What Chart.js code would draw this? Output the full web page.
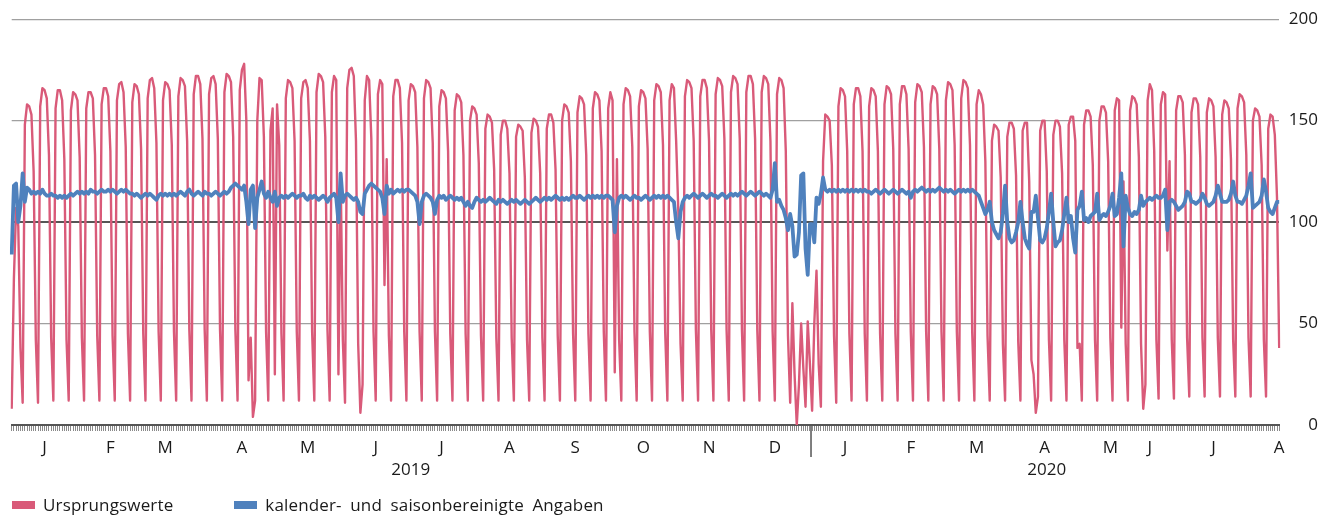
<!DOCTYPE html>
<html><head><meta charset="utf-8">
<script src="https://cdn.jsdelivr.net/npm/chart.js@4.4.1/dist/chart.umd.min.js"></script>
<style>
html,body{margin:0;padding:0;background:#fff;}
#wrap{position:relative;width:1331px;height:516px;}
#legend{position:absolute;left:12px;top:493px;font-family:'Open Sans';font-size:17px;letter-spacing:0.15px;word-spacing:4px;color:#1a1a1a;display:flex;white-space:nowrap;}
.item{display:flex;align-items:center;}
.box{width:23px;height:8px;margin-right:8px;}
</style></head><body>
<div id="wrap"><canvas id="c" width="1331" height="516"></canvas><div id="legend"></div></div>
<script>
const startDate = [2019, 0, 1];
const seriesNames = ['Ursprungswerte', 'kalender- und saisonbereinigte Angaben'];
const seriesColors = ['#d95a79', '#4f81bd'];

const pink2019 = [
8,72,107,98,38,11,
148,158,157,153,125,42,11,
157,166,165,161,133,43,12,
156,165,165,160,131,42,12,
155,164,163,160,132,43,12,
156,164,164,161,133,44,12,
158,166,166,162,135,44,12,
160,168,169,164,137,45,12,
159,168,167,163,136,45,12,
161,170,171,166,139,46,12,
160,169,168,165,138,46,12,
162,171,170,167,140,47,12,
163,172,172,168,141,47,12,
163,171,172,168,141,47,12,
164,173,172,169,142,47,12,
165,175,178,150,22,43,4,
12,150,171,170,142,46,12,
145,156,25,158,138,45,12,
161,170,169,166,140,46,12,
161,169,170,166,140,46,12,
164,173,172,169,142,47,12,
164,172,170,25,124,42,11,
166,175,176,172,140,40,6,
20,160,172,170,141,46,12,
163,170,168,69,131,44,12,
162,170,170,166,139,46,12,
160,168,167,164,137,46,12,
161,170,169,166,139,46,12,
157,165,164,161,135,45,12,
155,163,162,159,133,45,12,
150,157,156,153,129,44,12,
146,153,152,149,126,43,12,
143,150,150,146,124,43,12,
142,148,147,145,122,42,12,
144,151,150,147,124,43,12,
146,153,153,149,126,44,12,
150,158,157,154,130,45,12,
154,162,161,158,133,45,12,
156,164,163,160,135,46,12,
156,164,160,26,131,42,12,
158,166,165,162,137,46,12,
157,165,164,161,136,46,12,
160,168,167,164,138,46,12,
160,168,166,140,105,40,12,
162,170,169,166,140,47,12,
162,170,170,166,140,47,12,
163,171,170,167,141,47,12,
164,172,171,168,141,47,12,
164,172,172,168,141,47,12,
164,172,171,168,140,46,12,
163,171,170,166,135,44,11,
60,25,0,20,50,28,9,
51,30
];
const pink2020 = [
7,50,76,30,9,
130,153,152,150,128,44,11,
157,166,165,162,135,45,12,
158,166,166,162,135,45,12,
157,166,165,162,135,45,12,
158,167,166,163,136,45,12,
158,167,167,163,136,46,12,
159,168,167,164,137,46,12,
158,167,166,163,136,46,12,
160,169,168,165,138,46,12,
161,170,169,166,138,46,12,
158,165,163,158,130,44,12,
140,148,147,145,122,40,12,
142,149,149,146,123,41,12,
145,149,149,120,32,25,6,
14,145,150,150,125,42,12,
143,150,150,147,124,42,12,
148,152,152,140,38,40,12,
148,155,155,152,128,42,12,
150,157,157,154,130,43,12,
155,161,160,48,120,40,12,
155,162,161,158,132,40,8,
20,160,168,165,135,42,13,
158,164,163,86,130,42,13,
155,162,162,159,133,43,14,
154,161,161,158,132,43,14,
154,161,160,157,132,43,14,
153,160,159,156,131,42,14,
156,163,162,159,133,43,14,
150,156,155,152,128,42,14,
146,153,152,143,112,38
];
const blue2019 = [
84,118,119,100,108,124,
110,117,116,114,115,114,115,
114,116,114,113,113,114,113,
113,112,113,112,113,112,113,
114,113,114,115,114,115,114,
115,114,116,115,115,114,115,
116,115,115,116,115,116,115,
114,115,116,115,116,115,114,
114,113,114,113,112,113,114,
113,114,113,112,111,113,114,
113,114,113,114,113,114,113,
114,115,114,113,115,116,114,
113,114,115,114,113,115,114,
114,113,114,115,114,113,114,
115,114,115,117,118,119,118,
117,116,118,110,99,116,118,
97,112,116,120,114,112,115,
112,110,115,108,112,113,112,
113,112,113,114,113,112,113,
113,114,112,111,113,112,113,
112,111,112,113,112,110,112,
113,114,112,100,124,110,113,
114,113,112,111,112,110,105,
104,114,116,118,119,118,117,
116,115,112,104,118,114,116,
114,115,116,115,116,115,116,
116,115,114,113,110,99,110,
113,114,113,112,110,104,111,
113,112,113,111,112,113,112,
111,112,111,112,110,108,110,
108,107,110,112,111,110,111,
110,111,112,111,110,109,111,
110,111,110,109,110,111,110,
111,110,109,110,111,110,109,
110,111,112,111,110,111,112,
111,112,111,112,113,112,111,
112,111,112,111,112,113,112,
112,113,112,111,112,113,112,
113,112,113,112,113,112,113,
113,112,111,95,108,112,113,
112,113,112,111,112,113,112,
112,111,112,113,112,111,112,
113,112,113,112,113,112,113,
112,111,110,100,92,105,110,
112,113,112,113,114,113,112,
113,114,113,112,113,114,113,
113,112,113,114,113,112,113,
114,113,114,113,114,115,114,
113,114,115,114,113,114,115,
114,113,114,113,112,116,129,
110,111,108,106,102,96,104,
98,83,84,95,123,124,87,
74,99
];
const blue2020 = [
99,90,112,109,114,
122,116,115,116,115,116,115,
116,115,116,115,116,115,116,
115,116,115,116,115,116,115,
115,114,115,116,115,114,115,
116,115,114,115,116,115,114,
115,116,115,114,115,112,115,
116,115,116,117,116,115,116,
115,116,115,116,117,116,115,
116,115,116,115,114,115,116,
115,116,115,116,115,116,115,
114,113,110,107,104,106,110,
100,96,94,92,95,104,118,
100,92,90,91,95,100,110,
100,92,89,87,105,105,113,
102,91,90,92,97,105,114,
100,88,90,91,96,104,112,
100,103,92,85,106,108,115,
101,102,100,103,104,105,114,
101,103,104,103,105,108,114,
103,104,112,124,88,113,107,
104,103,105,104,106,113,108,
110,111,112,111,112,113,112,
112,113,116,96,110,111,110,
108,106,107,108,110,115,114,
110,110,109,110,111,114,112,
109,108,109,110,113,118,114,
110,110,110,111,114,120,113,
110,110,109,111,113,118,124,
107,108,109,110,113,121,115,
107,105,104,107,110,110
];

const monthTickDates = ['2019-01-16','2019-02-15','2019-03-12','2019-04-16','2019-05-16','2019-06-16','2019-07-16','2019-08-16','2019-09-15','2019-10-16','2019-11-15','2019-12-15','2020-01-16','2020-02-15','2020-03-16','2020-04-16','2020-05-16','2020-06-03','2020-07-02','2020-08-01'];
const monthTickLabels = ['J','F','M','A','M','J','J','A','S','O','N','D','J','F','M','A','M','J','J','A'];
const yearTickDates = ['2019-07-02','2020-04-17'];
const yearTickLabels = ['2019','2020'];
const yearBoundaryDates = ['2019-12-31','2020-01-01'];
const yTickValues = [0, 50, 100, 150, 200];

const pinkValues = pink2019.concat(pink2020);
const blueValues = blue2019.concat(blue2020);
const dates = pinkValues.map((_, i) => new Date(Date.UTC(startDate[0], startDate[1], startDate[2] + i)).toISOString().slice(0, 10));

const FONT = "'Open Sans', 'DejaVu Sans', sans-serif";
const TXT = '#1a1a1a';

const separatorPlugin = {
  id: 'yearSeparator',
  afterDraw(chart) {
    const xs = chart.scales.x;
    const i0 = dates.indexOf(yearBoundaryDates[0]);
    const i1 = dates.indexOf(yearBoundaryDates[1]);
    const px = (xs.getPixelForValue(i0) + xs.getPixelForValue(i1)) / 2;
    const ctx = chart.ctx;
    ctx.save();
    ctx.strokeStyle = '#555';
    ctx.lineWidth = 1.5;
    ctx.beginPath();
    ctx.moveTo(px, chart.chartArea.bottom);
    ctx.lineTo(px, chart.chartArea.bottom + 32);
    ctx.stroke();
    ctx.restore();
  }
};

new Chart(document.getElementById('c'), {
  type: 'line',
  data: {
    labels: dates,
    datasets: [
      { label: seriesNames[0], data: pinkValues, borderColor: seriesColors[0], backgroundColor: seriesColors[0], borderWidth: 2.4, pointRadius: 0, tension: 0, borderJoinStyle: 'round', order: 2, xAxisID: 'x', yAxisID: 'y' },
      { label: seriesNames[1], data: blueValues, borderColor: seriesColors[1], backgroundColor: seriesColors[1], borderWidth: 3.8, pointRadius: 0, tension: 0, borderJoinStyle: 'round', order: 1, xAxisID: 'x', yAxisID: 'y' }
    ]
  },
  options: {
    responsive: false,
    animation: false,
    devicePixelRatio: 1,
    layout: { padding: { left: 11.7, right: 13, top: 17, bottom: 33 } },
    plugins: { legend: { display: false }, tooltip: { enabled: false } },
    scales: {
      x: {
        type: 'category', position: 'bottom', offset: false, weight: 1,
        grid: { display: true, drawOnChartArea: false, drawTicks: true, tickLength: 6, tickColor: '#8a8a8a', lineWidth: 1 },
        border: { display: true, color: '#555', width: 2 },
        ticks: {
          autoSkip: false, maxRotation: 0, minRotation: 0, padding: 7,
          color: TXT, font: { family: FONT, size: 17 },
          callback: (v, i) => { const k = monthTickDates.indexOf(dates[i]); return k >= 0 ? monthTickLabels[k] : ''; }
        },
        afterFit: (s) => { s.height = 34; }
      },
      x2: {
        type: 'category', position: 'bottom', offset: false, weight: 2,
        grid: { display: false, drawTicks: false }, border: { display: false },
        ticks: {
          autoSkip: false, maxRotation: 0, minRotation: 0, padding: 1,
          color: TXT, font: { family: FONT, size: 17 },
          callback: (v, i) => { const k = yearTickDates.indexOf(dates[i]); return k >= 0 ? yearTickLabels[k] : ''; }
        },
        afterFit: (s) => { s.height = 24; }
      },
      y: {
        position: 'right', min: 0, max: 200,
        afterBuildTicks: (s) => { s.ticks = yTickValues.map(v => ({ value: v })); },
        grid: {
          drawTicks: false,
          color: (c) => c.tick.value === 100 ? '#555' : (c.tick.value === 0 ? 'rgba(0,0,0,0)' : '#a0a0a0'),
          lineWidth: (c) => c.tick.value === 100 ? 2 : 1.2
        },
        border: { display: false },
        ticks: { padding: 9, crossAlign: 'far', color: TXT, font: { family: FONT, size: 17 } },
        afterFit: (s) => { s.width = 38.8; }
      }
    }
  },
  plugins: [separatorPlugin]
});

const lg = document.getElementById('legend');
seriesNames.forEach((n, i) => {
  const it = document.createElement('div');
  it.className = 'item';
  it.style.marginRight = i === 0 ? '61px' : '0';
  const b = document.createElement('span'); b.className = 'box'; b.style.background = seriesColors[i];
  const t = document.createElement('span'); t.textContent = n;
  it.appendChild(b); it.appendChild(t); lg.appendChild(it);
});
</script>
</body></html>
